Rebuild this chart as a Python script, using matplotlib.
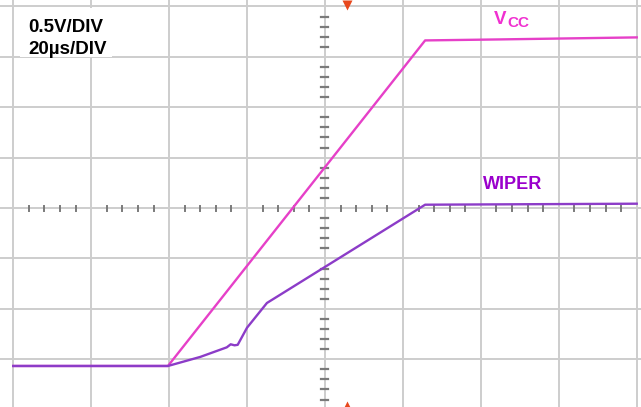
import matplotlib
matplotlib.use("Agg")
import matplotlib.pyplot as plt
from matplotlib.patches import Rectangle
from matplotlib.transforms import blended_transform_factory

# ---- data (time in microseconds, volts above trace ground) ----
vcc_t = [-80, -40.3, 25.7, 45.0, 80]
vcc_v = [0.0, 0.0, 3.23, 3.24, 3.26]
wiper_t = [-80, -40.3, -32.0, -25.2, -24.2, -23.2, -22.4, -20.0, -14.9, 25.7, 80]
wiper_v = [0.0, 0.0, 0.09, 0.185, 0.215, 0.205, 0.21, 0.38, 0.625, 1.60, 1.61]
trigger_t = 5.6
scale_labels = ["0.5V/DIV", "20µs/DIV"]
trace_labels = ["V", "CC", "WIPER"]

# ---- scope geometry ----
T_DIV = 20.0       # µs per division
V_DIV = 0.5        # V per division
V_CENTER = 1.567   # volts at the screen centre line

W, H = 641, 407
fig = plt.figure(figsize=(W / 100, H / 100), dpi=100)
ax = fig.add_axes([0, 0, 1, 1])
ax.set_xlim(-83.4, 81.1)
ax.set_ylim(-0.407, 3.631)
ax.axis("off")

grid_c = "#cdcdcd"
for k in range(-4, 5):
    ax.axvline(k * T_DIV, color=grid_c, lw=1.4, zorder=1)
for k in range(-4, 5):
    ax.axhline(V_CENTER + k * V_DIV, color=grid_c, lw=1.4, zorder=1)

# minor ticks on centre axes
tick_c = "#7a7a7a"
for i in range(-20, 21):
    if i % 5 == 0:
        continue
    t = i * T_DIV / 5
    ax.plot([t, t], [V_CENTER - 0.025, V_CENTER + 0.025], color=tick_c, lw=1.4, zorder=2)
for i in range(-20, 21):
    if i % 5 == 0:
        continue
    v = V_CENTER + i * V_DIV / 5
    ax.plot([-0.9, 0.9], [v, v], color=tick_c, lw=1.6, zorder=2)

# traces
ax.plot(vcc_t, vcc_v, color="#e640c8", lw=1.7, zorder=4, solid_joinstyle="round")
ax.plot(wiper_t, wiper_v, color="#8c3cc8", lw=1.7, zorder=5, solid_joinstyle="round")

# trigger markers
tr = blended_transform_factory(ax.transData, ax.transAxes)
ax.plot([trigger_t], [1 - 5 / H], marker="v", color="#e8481c", ms=7, transform=tr,
        zorder=6, clip_on=False, mec="none")
ax.plot([trigger_t], [1 / H], marker="^", color="#e8481c", ms=7, transform=tr,
        zorder=6, clip_on=False, mec="none")

# scale label box
fig.patches.append(Rectangle((20 / W, 1 - 57 / H), 92 / W, 49 / H,
                             transform=fig.transFigure, facecolor="white",
                             edgecolor="none", zorder=7))
fam = ["Liberation Sans", "DejaVu Sans"]
fig.text(28 / W, 1 - 32 / H, scale_labels[0], fontsize=13.5, fontweight="bold",
         family=fam, color="black", va="baseline", ha="left", zorder=8)
fig.text(28 / W, 1 - 54 / H, scale_labels[1], fontsize=13.5, fontweight="bold",
         family=fam, color="black", va="baseline", ha="left", zorder=8)

# trace labels
fig.text(494 / W, 1 - 24 / H, trace_labels[0], fontsize=13.5, fontweight="bold",
         family=fam, color="#f030d0", va="baseline", ha="left")
fig.text(507 / W, 1 - 27 / H, trace_labels[1], fontsize=11, fontweight="bold",
         family=fam, color="#f030d0", va="baseline", ha="left")
fig.text(483 / W, 1 - 189 / H, trace_labels[2], fontsize=13, fontweight="bold",
         family=fam, color="#9a00cc", va="baseline", ha="left")

fig.savefig("out.png", dpi=100, facecolor="white")
